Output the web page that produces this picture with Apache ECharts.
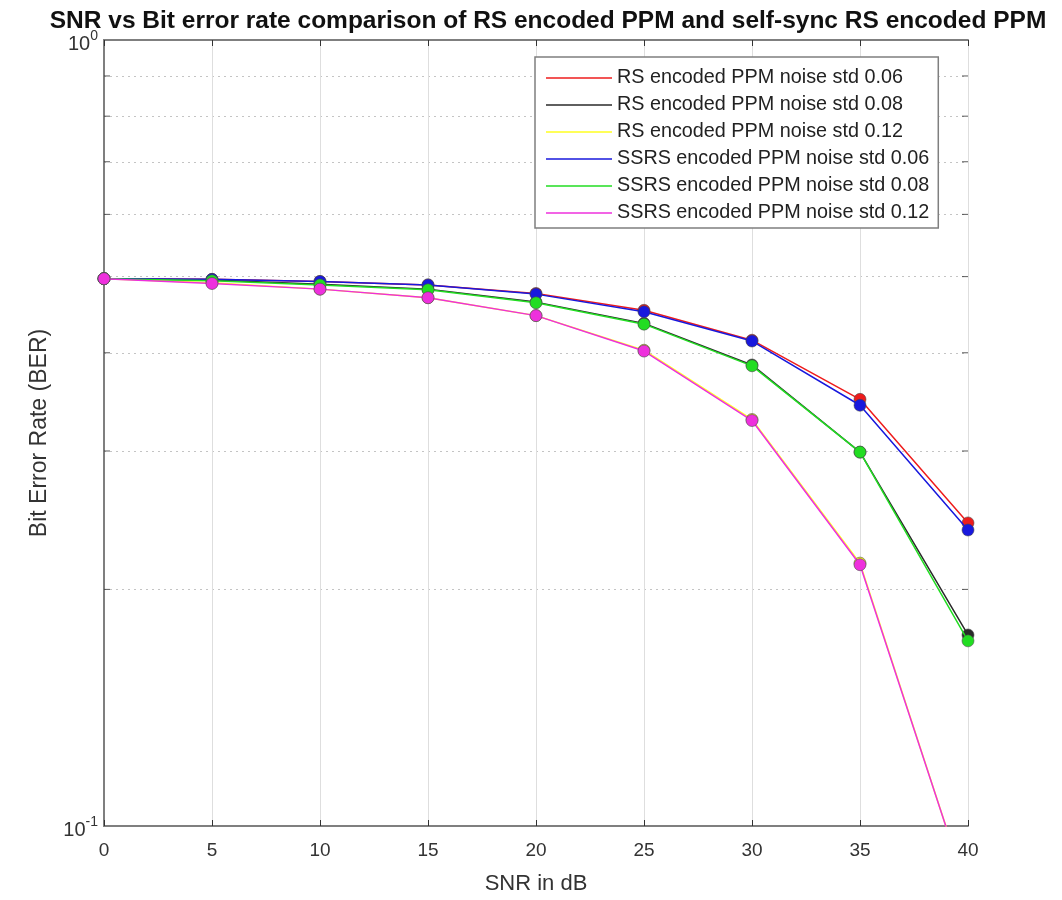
<!DOCTYPE html>
<html><head><meta charset="utf-8">
<script src="https://cdn.jsdelivr.net/npm/echarts@6/dist/echarts.min.js"></script>
<style>html,body{margin:0;padding:0;background:#fff}#c{width:1062px;height:900px}</style>
</head><body><div id="c"></div>
<script>
const snr = [0, 5, 10, 15, 20, 25, 30, 35, 40];
const rs006   = [0.497, 0.496, 0.493, 0.488, 0.476, 0.453, 0.415, 0.349, 0.243];
const rs008   = [0.497, 0.495, 0.489, 0.482, 0.464, 0.436, 0.386, 0.299, 0.175];
const rs012   = [0.497, 0.491, 0.482, 0.470, 0.446, 0.403, 0.329, 0.216, 0.082];
const ssrs006 = [0.497, 0.496, 0.493, 0.488, 0.475, 0.451, 0.414, 0.343, 0.238];
const ssrs008 = [0.497, 0.494, 0.488, 0.481, 0.463, 0.435, 0.385, 0.299, 0.172];
const ssrs012 = [0.497, 0.490, 0.482, 0.470, 0.446, 0.402, 0.328, 0.215, 0.082];
const seriesNames = [
  'RS encoded PPM noise std 0.06',
  'RS encoded PPM noise std 0.08',
  'RS encoded PPM noise std 0.12',
  'SSRS encoded PPM noise std 0.06',
  'SSRS encoded PPM noise std 0.08',
  'SSRS encoded PPM noise std 0.12'
];
const seriesValues = [rs006, rs008, rs012, ssrs006, ssrs008, ssrs012];
const seriesColors = ['#ee1c1c', '#2a2a2a', '#ffff20', '#1818dd', '#22dd22', '#ee30dd'];
const yMinorTicks = [0.2, 0.3, 0.4, 0.5, 0.6, 0.7, 0.8, 0.9];
const xRange = [0, 40];
const titleText = 'SNR vs Bit error rate comparison of RS encoded PPM and self-sync RS encoded PPM';

const FONT = '"Liberation Sans", Arial, Helvetica, sans-serif';
const chart = echarts.init(document.getElementById('c'), null, {renderer: 'canvas'});

const series = seriesNames.map((name, i) => ({
  name: name,
  type: 'line',
  xAxisIndex: 0,
  yAxisIndex: 0,
  data: snr.map((x, j) => [x, seriesValues[i][j]]),
  symbol: 'circle',
  symbolSize: 12,
  clip: true,
  lineStyle: {color: seriesColors[i], width: 1.5},
  itemStyle: {color: seriesColors[i], borderColor: 'rgba(70,70,70,0.55)', borderWidth: 1},
  emphasis: {disabled: true},
  animation: false,
  z: 2 + i
}));

// minor ticks on the left and right frame edges (inside), placed via the log axis
series.push({
  type: 'scatter', silent: true, clip: false, animation: false, z: 1,
  data: yMinorTicks.map(v => [xRange[0], v]),
  symbol: 'rect', symbolSize: [6, 1], symbolOffset: [3, 0],
  itemStyle: {color: '#333'}
});
series.push({
  type: 'scatter', silent: true, clip: false, animation: false, z: 1,
  data: yMinorTicks.map(v => [xRange[1], v]),
  symbol: 'rect', symbolSize: [6, 1], symbolOffset: [-3, 0],
  itemStyle: {color: '#333'}
});

const option = {
  animation: false,
  backgroundColor: '#ffffff',
  title: {
    text: titleText,
    left: 543, top: 4, textAlign: 'center',
    textStyle: {fontFamily: FONT, fontSize: 24.5, fontWeight: 'bold', color: '#111'}
  },
  grid: {left: 104, right: 94, top: 40, bottom: 68, containLabel: false},
  legend: {
    orient: 'vertical',
    left: 535, top: 57,
    padding: [11, 9, 5, 11],
    itemGap: 7,
    itemWidth: 66, itemHeight: 1.6,
    icon: 'rect',
    itemStyle: {borderWidth: 0},
    backgroundColor: '#ffffff',
    borderColor: '#7f7f7f', borderWidth: 1.5,
    textStyle: {fontFamily: FONT, fontSize: 19.8, color: '#222', lineHeight: 20},
    data: seriesNames
  },
  xAxis: [{
    type: 'value', min: xRange[0], max: xRange[1], interval: 5,
    position: 'bottom',
    name: 'SNR in dB', nameLocation: 'middle', nameGap: 47,
    nameTextStyle: {fontFamily: FONT, fontSize: 22, color: '#333'},
    axisLine: {show: true, lineStyle: {color: '#7f7f7f', width: 2}},
    axisTick: {show: true, inside: true, length: 6, lineStyle: {color: '#333', width: 1}},
    axisLabel: {fontFamily: FONT, fontSize: 19, color: '#333', margin: 15},
    splitLine: {show: true, lineStyle: {color: '#dedede', width: 1}}
  }, {
    type: 'value', min: xRange[0], max: xRange[1], interval: 5,
    position: 'top',
    axisLine: {show: true, lineStyle: {color: '#7f7f7f', width: 2}},
    axisTick: {show: true, inside: true, length: 6, lineStyle: {color: '#333', width: 1}},
    axisLabel: {show: false},
    splitLine: {show: false}
  }],
  yAxis: [{
    type: 'log', logBase: 10, min: 0.1, max: 1,
    position: 'left',
    name: 'Bit Error Rate (BER)', nameLocation: 'middle', nameGap: 53,
    nameTextStyle: {fontFamily: FONT, fontSize: 23, color: '#333'},
    axisLine: {show: true, lineStyle: {color: '#7f7f7f', width: 2}},
    axisTick: {show: false},
    axisLabel: {
      fontFamily: FONT, fontSize: 20, color: '#333', margin: 6,
      formatter: function (v) {
        const e = Math.round(Math.log10(v));
        return '{b|10}{s|' + e + '}';
      },
      rich: {
        b: {fontFamily: FONT, fontSize: 20, color: '#333', padding: [8, 0, 0, 0]},
        s: {fontFamily: FONT, fontSize: 14, color: '#333', padding: [0, 0, 8, 0]}
      }
    },
    splitLine: {show: false}
  }, {
    type: 'log', logBase: 10, min: 0.1, max: 1,
    position: 'right',
    axisLine: {show: true, lineStyle: {color: '#7f7f7f', width: 2}},
    axisTick: {show: false, customValues: yMinorTicks},
    axisLabel: {show: false},
    splitLine: {show: true, lineStyle: {color: '#c4c4c4', width: 1, type: [2, 4]}}
  }],
  series: series
};
chart.setOption(option);
</script>
</body></html>
